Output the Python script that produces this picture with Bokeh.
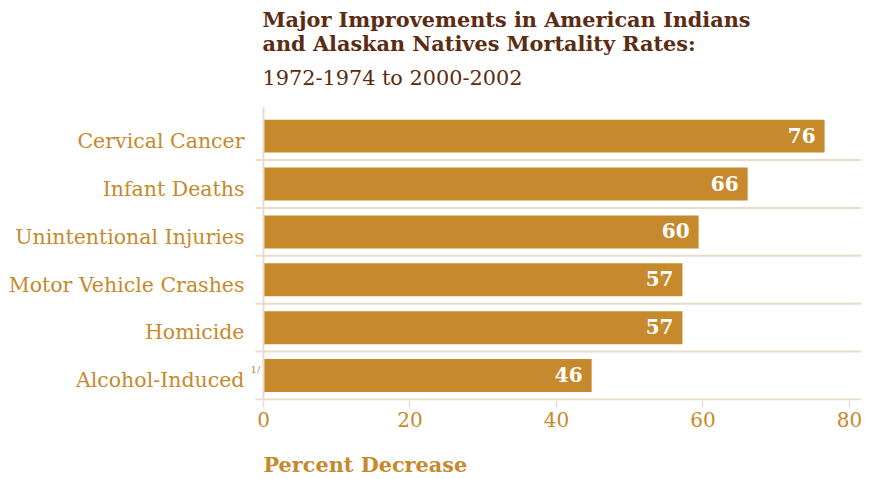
from bokeh.plotting import figure
from bokeh.models import Range1d, FixedTicker, Label
from bokeh.core.properties import value
from bokeh.embed import file_html
from bokeh.resources import INLINE

categories = ["Cervical Cancer", "Infant Deaths", "Unintentional Injuries",
              "Motor Vehicle Crashes", "Homicide", "Alcohol-Induced"]
values = [76.6, 66.1, 59.4, 57.2, 57.2, 44.8]
value_labels = ["76", "66", "60", "57", "57", "46"]
x_ticks = [0, 20, 40, 60, 80]
x_title = "Percent Decrease"

GOLD = "#C6892B"
BROWN = "#5B2C12"
BEIGE = "#E8DCC8"
FONT = "DejaVu Serif"

n = len(categories)
centers = [n - i - 0.5 for i in range(n)]
label_pos = [c - 0.1 for c in centers]
X0, X1 = -1.911, 81.64
Y0, Y1 = -0.0208, 8.333
DY = 0.146  # baseline correction for labels

p = figure(width=868, height=479, output_backend="svg", toolbar_location=None,
           x_range=Range1d(X0, X1), y_range=Range1d(Y0, Y1),
           min_border_left=249, min_border_right=7, min_border_top=0,
           min_border_bottom=78)
p.outline_line_color = None
p.xgrid.visible = False
p.ygrid.visible = False

p.hbar(y=centers, left=0, right=values, height=0.6875, color=GOLD, line_color=None)

p.text(x=values, y=centers, text=value_labels, x_offset=-9, y_offset=-1,
       text_align="right", text_baseline="middle", text_color="white",
       text_font=value(FONT), text_font_style="bold", text_font_size="20px")

# separators and axis lines
seps = list(range(0, n))
p.segment(x0=[-1.09] * len(seps), x1=[X1] * len(seps), y0=seps, y1=seps,
          line_color=BEIGE, line_width=2)
p.segment(x0=[0], x1=[0], y0=[0], y1=[6.104], line_color=BEIGE, line_width=2)

# x axis
xa = p.xaxis[0]
xa.ticker = FixedTicker(ticks=x_ticks)
xa.axis_line_color = None
xa.major_tick_line_color = BEIGE
xa.major_tick_line_width = 1.5
xa.major_tick_out = 7
xa.major_tick_in = 0
xa.minor_tick_line_color = None
xa.major_label_text_font = FONT
xa.major_label_text_font_size = "20px"
xa.major_label_text_color = GOLD
xa.major_label_standoff = 4
# label is centred on the axis start; pad on the left so it starts at x = 0
xa.axis_label = "\u00a0" * 32 + x_title
xa.axis_label_align = "start"
xa.axis_label_standoff = 22
xa.axis_label_text_font = FONT
xa.axis_label_text_font_style = "bold"
xa.axis_label_text_font_size = "20.8px"
xa.axis_label_text_color = GOLD

# y axis
ya = p.yaxis[0]
ya.ticker = FixedTicker(ticks=label_pos)
ya.major_label_overrides = {c: lab for c, lab in zip(label_pos, categories)}
ya.axis_line_color = None
ya.major_tick_line_color = None
ya.minor_tick_line_color = None
ya.major_tick_out = 0
ya.major_label_standoff = 5
ya.major_label_text_font = FONT
ya.major_label_text_font_size = "20.5px"
ya.major_label_text_color = GOLD

# superscript on alcohol label
p.add_layout(Label(x=-1.77, y=0.479 + DY, text="1/", text_font=FONT, text_font_size="10px",
                   text_color=GOLD, text_align="left", text_baseline="alphabetic"))

# titles
p.add_layout(Label(x=0, y=7.79 + DY, x_offset=-1, text="Major Improvements in American Indians",
                   text_font=FONT, text_font_style="bold", text_font_size="20.8px",
                   text_color=BROWN, text_baseline="alphabetic"))
p.add_layout(Label(x=0, y=7.29 + DY, x_offset=-1, text="and Alaskan Natives Mortality Rates:",
                   text_font=FONT, text_font_style="bold", text_font_size="20.8px",
                   text_color=BROWN, text_baseline="alphabetic"))
p.add_layout(Label(x=0, y=6.5625 + DY, x_offset=-1, text="1972-1974 to 2000-2002",
                   text_font=FONT, text_font_size="20.8px",
                   text_color=BROWN, text_baseline="alphabetic"))

open("out.html", "w").write(file_html(p, INLINE))
